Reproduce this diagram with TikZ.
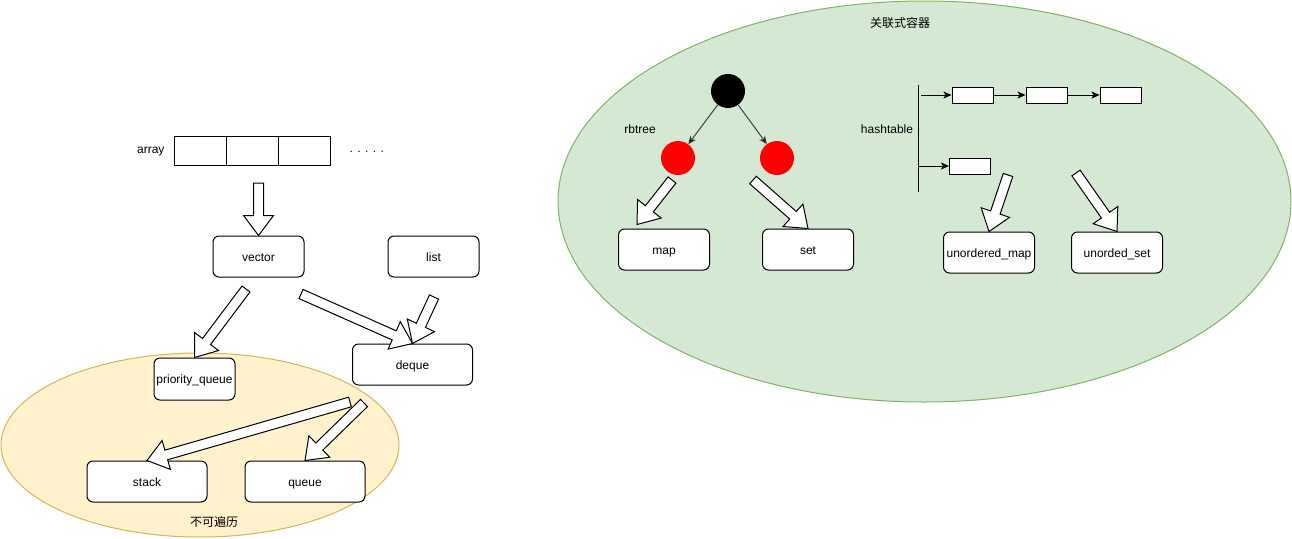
\documentclass[tikz,border=0pt]{standalone}
\usepackage{fontspec}
\setmainfont{Liberation Sans}
\newfontfamily\cjk{Noto Sans CJK SC}
\usetikzlibrary{arrows.meta,calc,positioning,shapes.geometric}

\definecolor{yellowfill}{HTML}{FFF2CC}
\definecolor{yellowline}{HTML}{D6B656}
\definecolor{greenfill}{HTML}{D5E8D4}
\definecolor{greenline}{HTML}{82B366}
\definecolor{rednode}{HTML}{FF0000}

\tikzset{
  container/.style={draw, rounded corners=6pt, fill=white, line width=1pt,
    minimum width=91pt, minimum height=41pt, inner sep=1pt,
    text height=10.5pt, text depth=1pt,
    font=\fontsize{12}{14}\selectfont},
  cell/.style={draw, fill=white, line width=1pt, outer sep=0pt,
    minimum width=52pt, minimum height=29pt},
  slot/.style={draw, fill=white, line width=1pt,
    minimum width=41pt, minimum height=16pt},
  rbnode/.style={circle, minimum size=34pt, inner sep=0pt},
  zone/.style={ellipse, line width=1pt, inner sep=0pt},
  caption/.style={font=\fontsize{12}{14}\selectfont},
  link/.style={->, line width=1pt},
  fatline/.style={draw, fill=white, line width=1pt, line join=miter}
}

% hollow block arrow: tail coordinate, tip coordinate
\newcommand{\fatarrow}[2]{%
  \coordinate (fa-b) at ($(#2)!20pt!(#1)$);
  \path[fatline] ($(#1)!5pt!90:(#2)$) -- ($(fa-b)!5pt!-90:(#1)$)
    -- ($(fa-b)!15pt!-90:(#1)$) -- (#2) -- ($(fa-b)!15pt!90:(#1)$)
    -- ($(fa-b)!5pt!90:(#1)$) -- ($(#1)!5pt!-90:(#2)$) -- cycle;}

\begin{document}
\begin{tikzpicture}[x=1pt, y=-1pt, >={Stealth[length=8pt,width=7pt,inset=2pt]}]
  \useasboundingbox (0,0) rectangle (1292,538);

  % Zones
  \node [zone, draw=yellowline, fill=yellowfill, minimum width=398pt, minimum height=184pt]
        (walkless) at (200,445) {};
  \node [zone, draw=greenline, fill=greenfill, minimum width=733pt, minimum height=401pt]
        (assoc) at (924.5,201.5) {};
  \node [caption] (walklesstxt) at (214,522) {\cjk 不可遍历};
  \node [caption] (assoctxt) at (900,23) {\cjk 关联式容器};

  % Array
  \node [cell] (cell1) at (200,150.5) {};
  \node [cell] (cell2) [right=0pt of cell1] {};
  \node [cell] (cell3) [right=0pt of cell2] {};
  \node [caption, left=6pt of cell1, yshift=-1pt] (arraytxt) {array};
  \node [caption, right=16pt of cell3, yshift=-1pt] (dots) {. . . . .};

  % Sequence containers
  \node [container] (vector) at (258.5,256.5) {vector};
  \node [container] (list) [right=83pt of vector] {list};
  \node [container, minimum width=120pt] (deque) at (412.5,364.5) {deque};
  \node [container, minimum width=81pt, minimum height=42pt] (pqueue) at (194.5,379) {priority\_queue};
  \node [container, minimum width=120pt] (stack) at (147,481.5) {stack};
  \node [container, minimum width=120pt] (queue) [right=37pt of stack] {queue};

  % Red-black tree
  \node [rbnode, fill=black] (root) at (728,91) {};
  \node [rbnode, fill=rednode] (redl) at (678,158) {};
  \node [rbnode, fill=rednode] (redr) at (777,158) {};
  \node [caption] (rbtxt) at (640,129) {rbtree};
  \path [link, draw=black!75] (root) edge (redl) (root) edge (redr);

  % Hash table
  \coordinate (htop) at (918,85);
  \coordinate (hbot) at (918,192);
  \draw [line width=1pt] (htop) -- (hbot);
  \node [caption] (hashtxt) at (887,129) {hashtable};
  \node [slot] (slot1) at (972.5,95) {};
  \node [slot] (slot2) [right=32pt of slot1] {};
  \node [slot] (slot3) [right=32pt of slot2] {};
  \node [slot] (slot4) at (970,166) {};
  \draw [link] ($(htop)+(3,10)$) -- (slot1);
  \draw [link] (slot1) -- (slot2);
  \draw [link] (slot2) -- (slot3);
  \draw [link] ($(htop)+(0,81)$) -- (slot4);

  % Associative containers
  \node [container] (map) at (664,249.5) {map};
  \node [container] (set) at (808,249.5) {set};
  \node [container] (umap) at (989,252.5) {unordered\_map};
  \node [container] (uset) at (1117,252.5) {unorded\_set};

  % Block arrows
  \coordinate (arrtail) at (258.5,183);
  \coordinate (vecpq) at (246,289);
  \coordinate (vecdq) at (301,294);
  \coordinate (listdq) at (434,297);
  \coordinate (dqstack) at (350,402);
  \coordinate (dqqueue) at (364,403);
  \coordinate (redlmap) at (672,180);
  \coordinate (redrset) at (753,180);
  \coordinate (hashumap) at (1008,175);
  \coordinate (hashuset) at (1076,173);

  \fatarrow{arrtail}{vector.north}
  \fatarrow{vecpq}{pqueue.north}
  \fatarrow{vecdq}{deque.north}
  \fatarrow{listdq}{deque.north}
  \fatarrow{dqstack}{stack.north}
  \fatarrow{dqqueue}{queue.north}
  \fatarrow{redlmap}{$(map.north)+(-27,-4)$}
  \fatarrow{redrset}{set.north}
  \fatarrow{hashumap}{umap.north}
  \fatarrow{hashuset}{uset.north}
\end{tikzpicture}
\end{document}
